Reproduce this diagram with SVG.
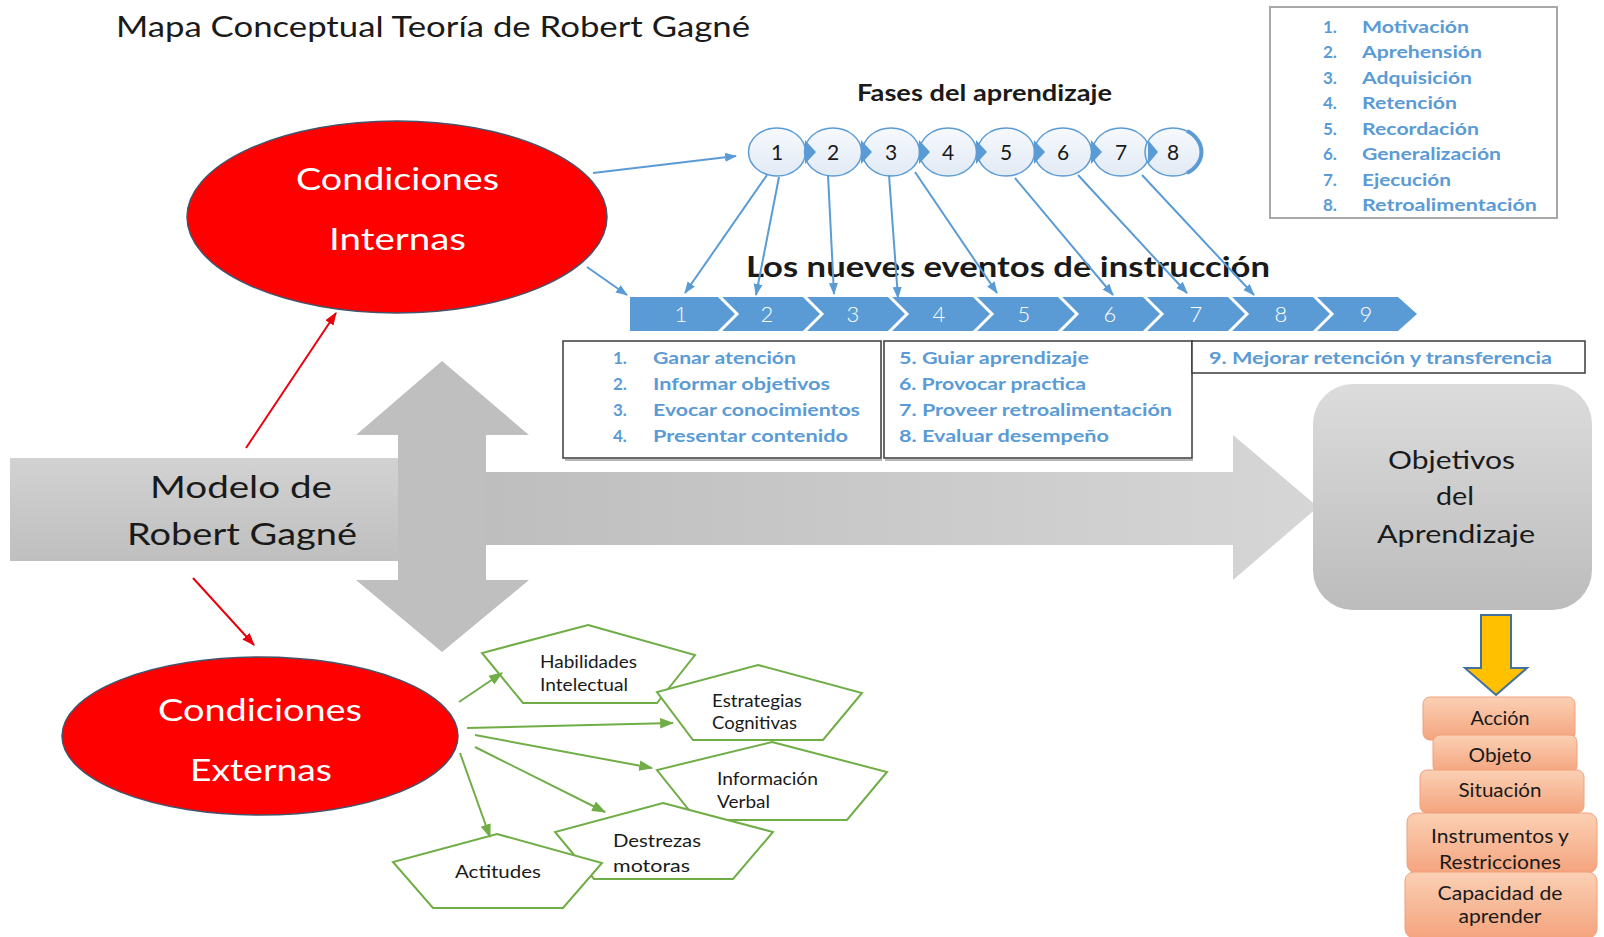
<svg xmlns="http://www.w3.org/2000/svg" width="1604" height="937" viewBox="0 0 1604 937">
<defs>
<style>
text { font-family: Lato, "Open Sans", "Liberation Sans", sans-serif; }
.lb { fill:#5b9bd5; font-weight:bold; font-size:17px; }
.blk { fill:#1a1a1a; }
.wht { fill:#ffffff; }
.pent { fill:#ffffff; stroke:#70ad47; stroke-width:2; stroke-linejoin:miter; }
.ptx { font-size:17px; fill:#1a1a1a; }
.ell { fill:#ff0000; stroke:#44546a; stroke-width:1.5; }
.box { fill:#ffffff; stroke:#3a3a3a; stroke-width:1.5; }
.shd { fill:none; stroke:#b8b8b8; stroke-width:2; }
.or { fill:url(#gOr); stroke:#f0a07a; stroke-width:1; }
.otx { font-size:18.5px; fill:#1a1a1a; text-anchor:middle; }
.cir { fill:url(#gCir); stroke:#5b9bd5; stroke-width:1.5; }
.tri { fill:#5b9bd5; }
.cn { font-size:21px; fill:#1a1a1a; text-anchor:middle; }
.chn { font-size:22px; fill:#ffffff; font-weight:300; text-anchor:middle; }
.sep { fill:none; stroke:#ffffff; stroke-width:3; }
.cb { stroke:#5b9bd5; stroke-width:2; fill:none; marker-end:url(#mB); }
.cr { stroke:#e8000b; stroke-width:2; fill:none; marker-end:url(#mR); }
.cg { stroke:#70ad47; stroke-width:2; fill:none; marker-end:url(#mG); }
</style>
<marker id="mB" viewBox="0 0 12 12" refX="11" refY="6" markerWidth="12" markerHeight="12" orient="auto" markerUnits="userSpaceOnUse"><path d="M0,1.5 L12,6 L0,10.5 z" fill="#5b9bd5"/></marker>
<marker id="mR" viewBox="0 0 12 12" refX="11" refY="6" markerWidth="13" markerHeight="13" orient="auto" markerUnits="userSpaceOnUse"><path d="M0,1.5 L12,6 L0,10.5 z" fill="#e8000b"/></marker>
<marker id="mG" viewBox="0 0 12 12" refX="11" refY="6" markerWidth="14" markerHeight="14" orient="auto" markerUnits="userSpaceOnUse"><path d="M0,1.5 L12,6 L0,10.5 z" fill="#70ad47"/></marker>
<linearGradient id="gOr" x1="0" y1="0" x2="0" y2="1"><stop offset="0" stop-color="#fbd0b4"/><stop offset="1" stop-color="#f4a47e"/></linearGradient>
<linearGradient id="gCir" x1="0" y1="0" x2="0" y2="1"><stop offset="0" stop-color="#f6f9fd"/><stop offset="1" stop-color="#e2eaf5"/></linearGradient>
<linearGradient id="gH" x1="486" y1="0" x2="1318" y2="0" gradientUnits="userSpaceOnUse"><stop offset="0" stop-color="#bebebe"/><stop offset="1" stop-color="#d6d6d6"/></linearGradient>
<linearGradient id="gL" x1="0" y1="0" x2="0" y2="1"><stop offset="0" stop-color="#d2d2d2"/><stop offset="1" stop-color="#bfbfbf"/></linearGradient>
<linearGradient id="gObj" x1="0" y1="0" x2="0" y2="1"><stop offset="0" stop-color="#dcdcdc"/><stop offset="1" stop-color="#bcbcbc"/></linearGradient>
</defs>
<rect width="1604" height="937" fill="#ffffff"/>

<g id="title">
<text x="116" y="37" class="blk" font-size="28.5" textLength="634" lengthAdjust="spacingAndGlyphs">Mapa Conceptual Teoría de Robert Gagné</text>
</g>

<g id="fases-list">
<rect x="1270" y="7" width="287" height="211" fill="#ffffff" stroke="#a8a8a8" stroke-width="2"/>
<text class="lb" x="1323" y="32.5">1.</text><text class="lb" x="1362" y="32.5" textLength="107" lengthAdjust="spacingAndGlyphs">Motivación</text>
<text class="lb" x="1323" y="58">2.</text><text class="lb" x="1362" y="58" textLength="120" lengthAdjust="spacingAndGlyphs">Aprehensión</text>
<text class="lb" x="1323" y="83.5">3.</text><text class="lb" x="1362" y="83.5" textLength="110" lengthAdjust="spacingAndGlyphs">Adquisición</text>
<text class="lb" x="1323" y="109">4.</text><text class="lb" x="1362" y="109" textLength="95" lengthAdjust="spacingAndGlyphs">Retención</text>
<text class="lb" x="1323" y="134.5">5.</text><text class="lb" x="1362" y="134.5" textLength="117" lengthAdjust="spacingAndGlyphs">Recordación</text>
<text class="lb" x="1323" y="160">6.</text><text class="lb" x="1362" y="160" textLength="139" lengthAdjust="spacingAndGlyphs">Generalización</text>
<text class="lb" x="1323" y="185.5">7.</text><text class="lb" x="1362" y="185.5" textLength="89" lengthAdjust="spacingAndGlyphs">Ejecución</text>
<text class="lb" x="1323" y="211">8.</text><text class="lb" x="1362" y="211" textLength="175" lengthAdjust="spacingAndGlyphs">Retroalimentación</text>
</g>

<g id="fases">
<text x="857" y="101" class="blk" font-size="23" font-weight="bold" textLength="255" lengthAdjust="spacingAndGlyphs">Fases del aprendizaje</text>
<ellipse class="cir" cx="777" cy="152" rx="28.5" ry="24"/>
<ellipse class="cir" cx="833" cy="152" rx="28.5" ry="24"/>
<ellipse class="cir" cx="891" cy="152" rx="28.5" ry="24"/>
<ellipse class="cir" cx="948" cy="152" rx="28.5" ry="24"/>
<ellipse class="cir" cx="1006" cy="152" rx="28.5" ry="24"/>
<ellipse class="cir" cx="1063" cy="152" rx="28.5" ry="24"/>
<ellipse class="cir" cx="1121" cy="152" rx="28.5" ry="24"/>
<ellipse class="cir" cx="1173" cy="152" rx="28" ry="24"/>
<path d="M1187,131 A28,24 0 0 1 1187,173" fill="none" stroke="#5b9bd5" stroke-width="4"/>
<polygon class="tri" points="805,140 816,152 805,164"/>
<polygon class="tri" points="861,140 872,152 861,164"/>
<polygon class="tri" points="919,140 930,152 919,164"/>
<polygon class="tri" points="976,140 987,152 976,164"/>
<polygon class="tri" points="1034,140 1045,152 1034,164"/>
<polygon class="tri" points="1091,140 1102,152 1091,164"/>
<polygon class="tri" points="1148,140 1158,152 1148,164"/>
<text class="cn" x="777" y="159.5">1</text>
<text class="cn" x="833" y="159.5">2</text>
<text class="cn" x="891" y="159.5">3</text>
<text class="cn" x="948" y="159.5">4</text>
<text class="cn" x="1006" y="159.5">5</text>
<text class="cn" x="1063" y="159.5">6</text>
<text class="cn" x="1121" y="159.5">7</text>
<text class="cn" x="1173" y="159.5">8</text>
</g>

<g id="eventos">
<text x="746" y="277" class="blk" font-size="28.5" font-weight="bold" textLength="524" lengthAdjust="spacingAndGlyphs">Los nueves eventos de instrucción</text>
<polygon points="630,297 1398,297 1417,314 1398,331 630,331" fill="#5b9bd5"/>
<polyline class="sep" points="718,295 737,314 718,333"/>
<polyline class="sep" points="803,295 822,314 803,333"/>
<polyline class="sep" points="888,295 907,314 888,333"/>
<polyline class="sep" points="973,295 992,314 973,333"/>
<polyline class="sep" points="1058,295 1077,314 1058,333"/>
<polyline class="sep" points="1143,295 1162,314 1143,333"/>
<polyline class="sep" points="1228,295 1247,314 1228,333"/>
<polyline class="sep" points="1313,295 1332,314 1313,333"/>
<text class="chn" x="681" y="322">1</text>
<text class="chn" x="767" y="322">2</text>
<text class="chn" x="853" y="322">3</text>
<text class="chn" x="939" y="322">4</text>
<text class="chn" x="1024" y="322">5</text>
<text class="chn" x="1110" y="322">6</text>
<text class="chn" x="1196" y="322">7</text>
<text class="chn" x="1281" y="322">8</text>
<text class="chn" x="1366" y="322">9</text>
</g>

<g id="eventos-lista-1">
<line class="shd" x1="565" y1="460" x2="882" y2="460"/>
<rect class="box" x="563" y="341" width="318" height="117"/>
<text class="lb" x="613" y="364">1.</text><text class="lb" x="653" y="364" textLength="143" lengthAdjust="spacingAndGlyphs">Ganar atención</text>
<text class="lb" x="613" y="390">2.</text><text class="lb" x="653" y="390" textLength="177" lengthAdjust="spacingAndGlyphs">Informar objetivos</text>
<text class="lb" x="613" y="416">3.</text><text class="lb" x="653" y="416" textLength="207" lengthAdjust="spacingAndGlyphs">Evocar conocimientos</text>
<text class="lb" x="613" y="442">4.</text><text class="lb" x="653" y="442" textLength="195" lengthAdjust="spacingAndGlyphs">Presentar contenido</text>
</g>

<g id="eventos-lista-2">
<line class="shd" x1="885" y1="460" x2="1193" y2="460"/>
<rect class="box" x="884" y="341" width="308" height="117"/>
<text class="lb" x="899" y="364" textLength="190" lengthAdjust="spacingAndGlyphs">5. Guiar aprendizaje</text>
<text class="lb" x="899" y="390" textLength="187" lengthAdjust="spacingAndGlyphs">6. Provocar practica</text>
<text class="lb" x="899" y="416" textLength="273" lengthAdjust="spacingAndGlyphs">7. Proveer retroalimentación</text>
<text class="lb" x="899" y="442" textLength="210" lengthAdjust="spacingAndGlyphs">8. Evaluar desempeño</text>
</g>

<g id="eventos-lista-3">
<rect class="box" x="1192" y="341" width="393" height="32"/>
<text class="lb" x="1209" y="364" textLength="343" lengthAdjust="spacingAndGlyphs">9. Mejorar retención y transferencia</text>
</g>

<g id="flecha-horizontal">
<polygon points="486,472 1233,472 1233,435 1318,507 1233,580 1233,545 486,545" fill="url(#gH)"/>
</g>

<g id="modelo">
<rect x="10" y="458" width="388" height="103" fill="url(#gL)"/>
<text x="150" y="498" class="blk" font-size="31" textLength="182" lengthAdjust="spacingAndGlyphs">Modelo de</text>
<text x="127" y="545" class="blk" font-size="31" textLength="230" lengthAdjust="spacingAndGlyphs">Robert Gagné</text>
</g>

<g id="flecha-vertical">
<polygon points="442,361 529,435 486,435 486,580 529,580 442,652 356,580 398,580 398,435 356,435" fill="#bfbfbf"/>
</g>

<g id="condiciones-internas">
<ellipse class="ell" cx="397" cy="217" rx="210" ry="96"/>
<text x="296" y="190" class="wht" font-size="31" textLength="203" lengthAdjust="spacingAndGlyphs">Condiciones</text>
<text x="329" y="250" class="wht" font-size="31" textLength="137" lengthAdjust="spacingAndGlyphs">Internas</text>
</g>

<g id="condiciones-externas">
<ellipse class="ell" cx="260" cy="736" rx="198" ry="79"/>
<text x="158" y="721" class="wht" font-size="31" textLength="204" lengthAdjust="spacingAndGlyphs">Condiciones</text>
<text x="190" y="781" class="wht" font-size="31" textLength="142" lengthAdjust="spacingAndGlyphs">Externas</text>
</g>

<g id="objetivos">
<rect x="1313" y="384" width="279" height="226" rx="40" fill="url(#gObj)"/>
<text x="1388" y="469" class="blk" font-size="24.5" textLength="127" lengthAdjust="spacingAndGlyphs">Objetivos</text>
<text x="1436" y="505" class="blk" font-size="24.5" textLength="38" lengthAdjust="spacingAndGlyphs">del</text>
<text x="1377" y="543" class="blk" font-size="24.5" textLength="158" lengthAdjust="spacingAndGlyphs">Aprendizaje</text>
</g>

<g id="flecha-amarilla">
<polygon points="1481,615 1511,615 1511,668 1527,668 1496,695 1465,668 1481,668" fill="#ffc000" stroke="#41719c" stroke-width="2" stroke-linejoin="miter"/>
</g>

<g id="accion"><rect class="or" x="1423" y="697" width="152" height="43" rx="7"/><text class="otx" x="1500" y="725" textLength="59" lengthAdjust="spacingAndGlyphs">Acción</text></g>
<g id="objeto"><rect class="or" x="1433" y="735" width="144" height="38" rx="7"/><text class="otx" x="1500" y="762" textLength="63" lengthAdjust="spacingAndGlyphs">Objeto</text></g>
<g id="situacion"><rect class="or" x="1420" y="770" width="164" height="43" rx="7"/><text class="otx" x="1500" y="797" textLength="83" lengthAdjust="spacingAndGlyphs">Situación</text></g>
<g id="instrumentos"><rect class="or" x="1407" y="813" width="190" height="60" rx="9"/><text class="otx" x="1500" y="843" textLength="138" lengthAdjust="spacingAndGlyphs">Instrumentos y</text><text class="otx" x="1500" y="869" textLength="122" lengthAdjust="spacingAndGlyphs">Restricciones</text></g>
<g id="capacidad"><rect class="or" x="1405" y="872" width="192" height="66" rx="9"/><text class="otx" x="1500" y="900" textLength="125" lengthAdjust="spacingAndGlyphs">Capacidad de</text><text class="otx" x="1500" y="923" textLength="83" lengthAdjust="spacingAndGlyphs">aprender</text></g>

<g id="habilidades"><polygon class="pent" points="588,625 695,655 657,703 523,703 482,653"/><text class="ptx" x="540" y="668" textLength="97" lengthAdjust="spacingAndGlyphs">Habilidades</text><text class="ptx" x="540" y="691" textLength="88" lengthAdjust="spacingAndGlyphs">Intelectual</text></g>
<g id="estrategias"><polygon class="pent" points="758,665 862,693 823,740 693,740 657,692"/><text class="ptx" x="712" y="707" textLength="90" lengthAdjust="spacingAndGlyphs">Estrategias</text><text class="ptx" x="712" y="729" textLength="85" lengthAdjust="spacingAndGlyphs">Cognitivas</text></g>
<g id="informacion"><polygon class="pent" points="772,742 887,772 847,820 697,820 657,770"/><text class="ptx" x="717" y="785" textLength="101" lengthAdjust="spacingAndGlyphs">Información</text><text class="ptx" x="717" y="808" textLength="53" lengthAdjust="spacingAndGlyphs">Verbal</text></g>
<g id="destrezas"><polygon class="pent" points="663,803 773,832 733,879 594,879 555,832"/><text class="ptx" x="613" y="847" textLength="88" lengthAdjust="spacingAndGlyphs">Destrezas</text><text class="ptx" x="613" y="872" textLength="77" lengthAdjust="spacingAndGlyphs">motoras</text></g>
<g id="actitudes"><polygon class="pent" points="497,834 602,863 563,908 433,908 393,862"/><text class="ptx" x="455" y="878" textLength="86" lengthAdjust="spacingAndGlyphs">Actitudes</text></g>

<g id="connectors">
<line class="cb" x1="593" y1="173" x2="736" y2="156"/>
<line class="cb" x1="587" y1="267" x2="627" y2="295"/>
<line class="cb" x1="767" y1="175" x2="685" y2="293"/>
<line class="cb" x1="779" y1="177" x2="756" y2="295"/>
<line class="cb" x1="828" y1="175" x2="834" y2="294"/>
<line class="cb" x1="889" y1="175" x2="898" y2="298"/>
<line class="cb" x1="915" y1="172" x2="997" y2="293"/>
<line class="cb" x1="1015" y1="178" x2="1113" y2="295"/>
<line class="cb" x1="1078" y1="175" x2="1187" y2="293"/>
<line class="cb" x1="1142" y1="175" x2="1254" y2="295"/>
<line class="cr" x1="246" y1="448" x2="336" y2="313"/>
<line class="cr" x1="193" y1="578" x2="254" y2="645"/>
<line class="cg" x1="459" y1="702" x2="502" y2="673"/>
<line class="cg" x1="467" y1="728" x2="673" y2="723"/>
<line class="cg" x1="475" y1="735" x2="652" y2="768"/>
<line class="cg" x1="475" y1="747" x2="605" y2="812"/>
<line class="cg" x1="460" y1="753" x2="490" y2="837"/>
</g>
</svg>
